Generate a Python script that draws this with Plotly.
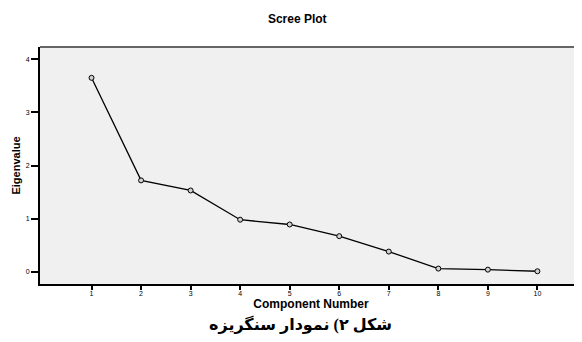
import plotly.graph_objects as go

components = [1, 2, 3, 4, 5, 6, 7, 8, 9, 10]
eigenvalues = [3.65, 1.72, 1.53, 0.98, 0.89, 0.67, 0.38, 0.06, 0.04, 0.01]
y_ticks = [0, 1, 2, 3, 4]

title_text = "<b>Scree Plot</b>"
x_title = "<b>Component Number</b>"
y_title = "<b>Eigenvalue</b>"
caption = "<b>شکل ۲) نمودار سنگریزه</b>"

fig = go.Figure()
fig.add_trace(go.Scatter(
    x=components, y=eigenvalues, mode="lines+markers",
    line=dict(color="black", width=1.3),
    marker=dict(symbol="circle", size=5, color="#d0d0d0",
                line=dict(color="black", width=1)),
    showlegend=False,
))

fig.update_layout(
    width=582, height=342,
    margin=dict(l=32, r=8, t=39, b=66),
    paper_bgcolor="white", plot_bgcolor="#f0f0f0",
    font=dict(family="Liberation Sans, Arial, sans-serif", color="black"),
    title=dict(text=title_text, x=0.497, xanchor="center", y=0.968, yanchor="middle",
               font=dict(size=12, color="black")),
    xaxis=dict(range=[-0.04, 10.9], tickvals=components, ticks="outside",
               ticklen=4, tickwidth=2, tickcolor="black", showgrid=False,
               zeroline=False, showline=True, linecolor="black", linewidth=2,
               tickfont=dict(size=7, color="black"), automargin=False,
               ticklabelstandoff=-2,
               title=dict(text=x_title, font=dict(size=12), standoff=0)),
    yaxis=dict(range=[-0.23, 4.23], tickvals=y_ticks, ticks="outside",
               ticklen=7, tickwidth=2, tickcolor="black", showgrid=False,
               zeroline=False, showline=True, linecolor="black", linewidth=2,
               tickfont=dict(size=7, color="black"), automargin=False,
               title=dict(text=y_title, font=dict(size=11), standoff=3)),
    shapes=[dict(type="line", xref="paper", yref="paper", x0=0, x1=1, y0=1, y1=1,
                 line=dict(color="#666", width=2))],
    annotations=[dict(text=caption, xref="paper", yref="paper", x=0.48, y=-0.169,
                      xanchor="center", yanchor="middle", showarrow=False,
                      font=dict(size=16, family="Liberation Serif, DejaVu Serif, DejaVu Sans",
                                color="black"))],
)

fig.write_html("out.html")
